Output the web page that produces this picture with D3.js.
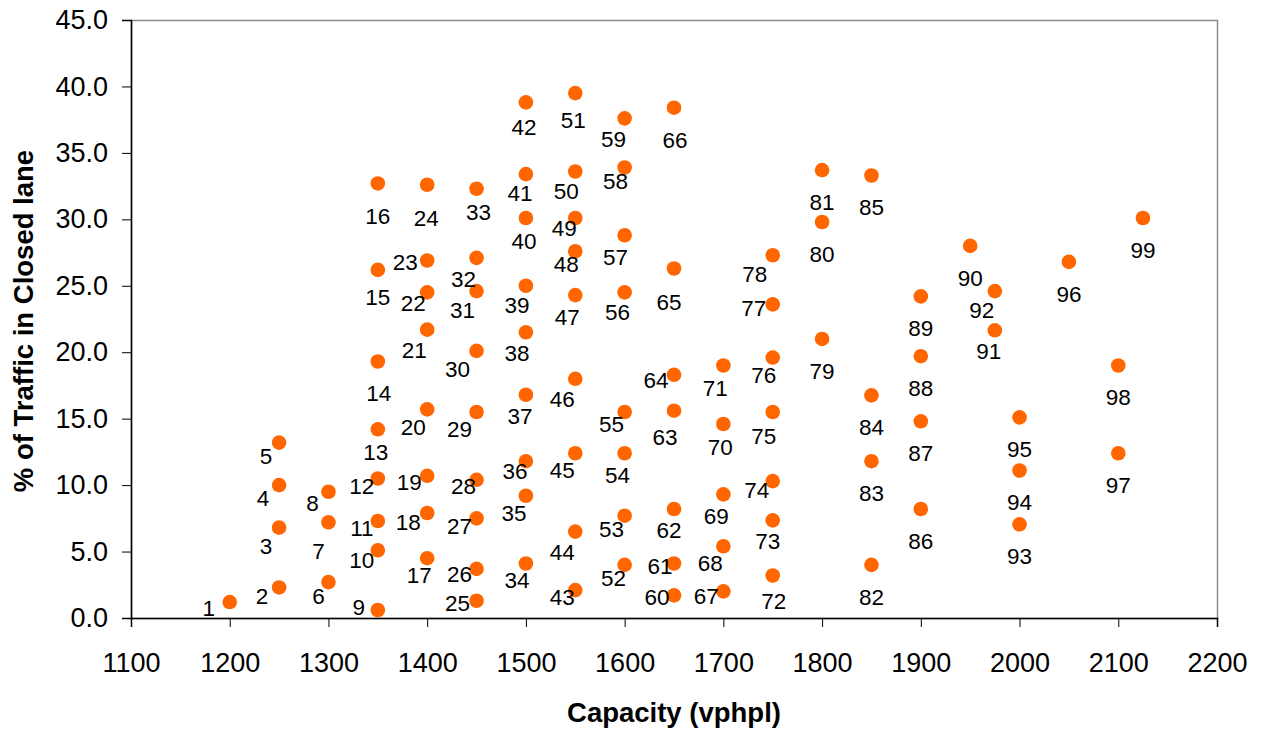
<!DOCTYPE html>
<html>
<head>
<meta charset="utf-8">
<script src="https://cdn.jsdelivr.net/npm/d3@7"></script>
<style>
  html, body { margin: 0; padding: 0; background: #fff; }
  svg { display: block; }
  text { font-family: "Liberation Sans", Arial, sans-serif; }
</style>
</head>
<body>
<svg id="chart" width="1267" height="732"></svg>
<script>
// ---------- data ----------
const pointIds = d3.range(1, 100);
const capacity = [
  1200,
  1250, 1250, 1250, 1250,
  1300, 1300, 1300,
  1350, 1350, 1350, 1350, 1350, 1350, 1350, 1350,
  1400, 1400, 1400, 1400, 1400, 1400, 1400, 1400,
  1450, 1450, 1450, 1450, 1450, 1450, 1450, 1450, 1450,
  1500, 1500, 1500, 1500, 1500, 1500, 1500, 1500, 1500,
  1550, 1550, 1550, 1550, 1550, 1550, 1550, 1550, 1550,
  1600, 1600, 1600, 1600, 1600, 1600, 1600, 1600,
  1650, 1650, 1650, 1650, 1650, 1650, 1650,
  1700, 1700, 1700, 1700, 1700,
  1750, 1750, 1750, 1750, 1750, 1750, 1750,
  1800, 1800, 1800,
  1850, 1850, 1850, 1850,
  1900, 1900, 1900, 1900,
  1950,
  1975, 1975,
  2000, 2000, 2000,
  2050,
  2100, 2100,
  2125
];
const pctClosedLane = [
  1.2,
  2.3, 6.8, 10.0, 13.2,
  2.7, 7.2, 9.5,
  0.6, 5.1, 7.3, 10.5, 14.2, 19.3, 26.2, 32.7,
  4.5, 7.9, 10.7, 15.7, 21.7, 24.5, 26.9, 32.6,
  1.3, 3.7, 7.5, 10.4, 15.5, 20.1, 24.6, 27.1, 32.3,
  4.1, 9.2, 11.8, 16.8, 21.5, 25.0, 30.1, 33.4, 38.8,
  2.1, 6.5, 12.4, 18.0, 24.3, 27.6, 30.1, 33.6, 39.5,
  4.0, 7.7, 12.4, 15.5, 24.5, 28.8, 33.9, 37.6,
  1.7, 4.1, 8.2, 15.6, 18.3, 26.3, 38.4,
  2.0, 5.4, 9.3, 14.6, 19.0,
  3.2, 7.35, 10.3, 15.5, 19.6, 23.6, 27.3,
  21.0, 29.8, 33.7,
  4.0, 11.8, 16.75, 33.3,
  8.2, 14.8, 19.7, 24.2,
  28.0,
  21.65, 24.6,
  7.05, 11.1, 15.1,
  26.8,
  12.4, 19.0,
  30.1
];
const xTickValues = [1100, 1200, 1300, 1400, 1500, 1600, 1700, 1800, 1900, 2000, 2100, 2200];
const yTickValues = [0, 5, 10, 15, 20, 25, 30, 35, 40, 45];
const xTitle = "Capacity (vphpl)";
const yTitle = "% of Traffic in Closed lane";

// ---------- layout / style (label placement nudges, px) ----------
const defaultNudge = [0, 32];
const labelNudge = {
  1:[-21,6], 2:[-17,9], 3:[-13,18], 4:[-16,13], 5:[-13,14], 6:[-10,14], 7:[-10,29], 8:[-16,11],
  9:[-19,-3], 10:[-16,10], 11:[-16,7], 12:[-16,8], 13:[-2,23], 14:[1,32], 15:[0,27], 16:[0,33],
  17:[-8,17], 18:[-19,9], 19:[-18,6], 20:[-14,18], 21:[-13,20], 22:[-14,11], 23:[-22,2], 24:[-1,33],
  25:[-19,2], 26:[-17,5], 27:[-17,8], 28:[-13,6], 29:[-17,17], 30:[-19,18], 31:[-14,19], 32:[-13,21], 33:[2,23],
  34:[-9,17], 35:[-12,17], 36:[-11,10], 37:[-6,21], 38:[-9,21], 39:[-9,19], 40:[-2,23], 41:[-6,19], 42:[-2,25],
  43:[-13,7], 44:[-13,21], 45:[-13,17], 46:[-13,20], 47:[-8,22], 48:[-9,13], 49:[-11,10], 50:[-9,20], 51:[-2,27],
  52:[-11,13], 53:[-13,13], 54:[-7,22], 55:[-13,12], 56:[-7,20], 57:[-9,22], 58:[-9,14], 59:[-11,21],
  60:[-17,2], 61:[-14,3], 62:[-5,21], 63:[-9,26], 64:[-18,5], 65:[-5,34], 66:[1,32],
  67:[-17,5], 68:[-13,17], 69:[-7,22], 70:[-3,23], 71:[-8,23],
  72:[1,26], 73:[-5,21], 74:[-16,9], 75:[-9,24], 76:[-9,18], 77:[-19,4], 78:[-18,19],
  91:[-6,21], 92:[-13,19]
};

const W = 1267, H = 732;
const margin = { left: 131, top: 20, right: 50, bottom: 114 };
const pw = W - margin.left - margin.right;   // 1086
const ph = H - margin.top - margin.bottom;   // 598

const svg = d3.select("#chart");
const g = svg.append("g").attr("transform", `translate(${margin.left},${margin.top})`);

const x = d3.scaleLinear().domain([1100, 2200]).range([0, pw]);
const y = d3.scaleLinear().domain([0, 45]).range([ph, 0]);

// plot area border (top/right gray)
g.append("rect")
  .attr("x", 0.5).attr("y", 0.5)
  .attr("width", pw).attr("height", ph)
  .attr("fill", "none").attr("stroke", "#8c8c8c").attr("stroke-width", 1.5);

// axes
const xAxis = g.append("g")
  .attr("transform", `translate(0,${ph})`)
  .call(d3.axisBottom(x).tickValues(xTickValues).tickFormat(d3.format("d")).tickSize(9).tickPadding(26));
const yAxis = g.append("g")
  .call(d3.axisLeft(y).tickValues(yTickValues).tickFormat(d3.format(".1f")).tickSize(9).tickPadding(14));

[xAxis, yAxis].forEach(a => {
  a.selectAll("path").attr("stroke", "#000").attr("stroke-width", 1.5);
  a.selectAll("line").attr("stroke", "#000").attr("stroke-width", 1);
  a.selectAll("text").attr("fill", "#000")
    .style("font-family", '"Liberation Sans", Arial, sans-serif')
    .style("font-size", "27px");
});

// points
const pts = pointIds.map((id, i) => ({ id, cap: capacity[i], pct: pctClosedLane[i] }));

g.append("g").selectAll("circle")
  .data(pts).join("circle")
  .attr("cx", d => x(d.cap))
  .attr("cy", d => y(d.pct))
  .attr("r", 7.3)
  .attr("fill", "#FF6600");

g.append("g").selectAll("text")
  .data(pts).join("text")
  .attr("x", d => x(d.cap) + (labelNudge[d.id] || defaultNudge)[0])
  .attr("y", d => y(d.pct) + (labelNudge[d.id] || defaultNudge)[1])
  .attr("dy", "0.35em")
  .attr("text-anchor", "middle")
  .style("font-size", "22.5px")
  .attr("fill", "#000")
  .text(d => d.id);

// axis titles
svg.append("text")
  .attr("x", margin.left + pw / 2)
  .attr("y", 721.5)
  .attr("text-anchor", "middle")
  .style("font-size", "27.5px")
  .style("font-weight", "bold")
  .text(xTitle);

svg.append("text")
  .attr("transform", `translate(33,321) rotate(-90)`)
  .attr("text-anchor", "middle")
  .style("font-size", "27.5px")
  .style("font-weight", "bold")
  .text(yTitle);
</script>
</body>
</html>
